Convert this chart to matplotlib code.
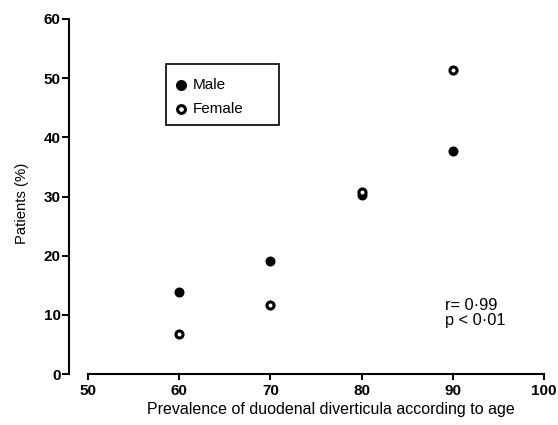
import matplotlib.pyplot as plt
from matplotlib.patches import Rectangle

plt.rcParams['font.family'] = ['Liberation Sans', 'DejaVu Sans']

# Data
ages = [60, 70, 80, 90]
male = [13.8, 19.1, 30.2, 37.7]
female = [6.8, 11.6, 30.7, 51.4]
x_ticks = [50, 60, 70, 80, 90, 100]
y_ticks = [0, 10, 20, 30, 40, 50, 60]

W, H = 558, 425
fig = plt.figure(figsize=(W / 100, H / 100), dpi=100)
ax = fig.add_axes([69 / W, (H - 374) / H, (544 - 69) / W, (374 - 19) / H])

ax.scatter(ages, male, s=52, color='black', linewidths=0, label='Male', zorder=3)
ax.scatter(ages, female, s=26, facecolor='white', edgecolor='black',
           linewidths=2.2, label='Female', zorder=3)

ax.set_xlim(47.9, 100)
ax.set_ylim(0, 60)
ax.set_xticks(x_ticks)
ax.set_yticks(y_ticks)

for side in ['top', 'right']:
    ax.spines[side].set_visible(False)
ax.spines['bottom'].set_bounds(50, 100)
ax.spines['left'].set_linewidth(1.5)
ax.spines['bottom'].set_linewidth(1.5)
ax.spines['left'].set_capstyle('projecting')

ax.tick_params(axis='x', direction='out', length=4, width=1.4, pad=3)
ax.tick_params(axis='y', direction='out', length=5, width=1.4, pad=1)
for lab in ax.get_xticklabels() + ax.get_yticklabels():
    lab.set_fontweight('bold')
    lab.set_fontsize(11)

ax.set_xlabel('Prevalence of duodenal diverticula according to age',
              fontsize=11.5)
ax.xaxis.set_label_coords(0.552, -0.078)
ax.set_ylabel('Patients (%)', fontsize=10.7)
ax.yaxis.set_label_coords(-0.085, 0.48)

# legend box
fig.patches.append(Rectangle((166 / W, 1 - 125 / H), 113 / W, 61 / H,
                             transform=fig.transFigure, fill=False,
                             edgecolor='black', linewidth=1.2))
leg = ax.legend(loc='upper left', bbox_to_anchor=(170 / W, 1 - 73 / H),
                bbox_transform=fig.transFigure, frameon=False,
                fontsize=11, handletextpad=0.4, borderpad=0.3,
                labelspacing=0.7, handlelength=0.8, borderaxespad=0,
                markerscale=1.1)

ax.text(89.1, 10.3, 'r= 0·99\np < 0·01', fontsize=11.8, va='center',
        linespacing=1.05)

fig.savefig('out.png', dpi=100)
